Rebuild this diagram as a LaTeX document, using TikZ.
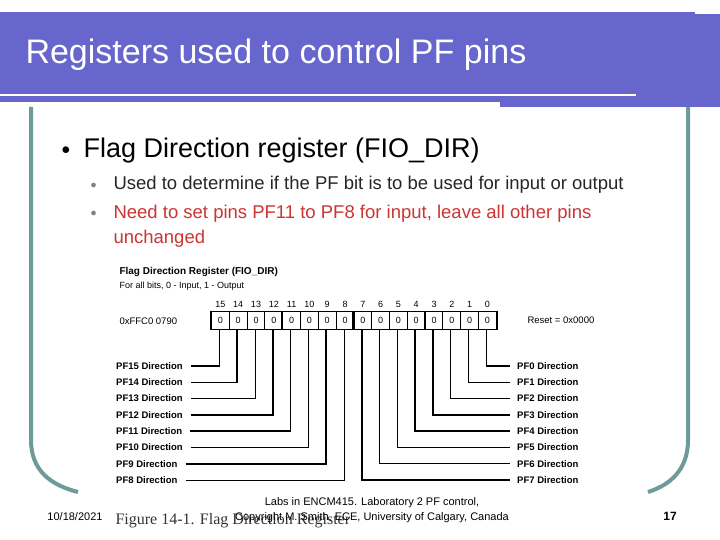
\documentclass[tikz,border=0pt]{standalone}
\usepackage{fontspec}
\setmainfont{Liberation Sans}
\newfontfamily\figfont{Liberation Serif}
\usepackage{tikz}
\usetikzlibrary{positioning}
\definecolor{barblue}{HTML}{6666CC}
\definecolor{frameteal}{HTML}{6E9A9A}
\definecolor{bulred}{HTML}{CC3333}
\tikzset{
  bit/.style={draw, line width=1pt, minimum width=17.8pt, minimum height=18pt,
    inner sep=0pt, font=\fontsize{9}{9}\selectfont, anchor=west},
  lbl/.style={font=\bfseries\fontsize{9.5}{10}\selectfont, inner sep=0pt},
  thk/.style={line width=1.6pt},
  thn/.style={line width=0.7pt}
}
\begin{document}
\begin{tikzpicture}[x=1pt,y=-1pt]
\useasboundingbox (0,0) rectangle (720,540);
% title bar
    \fill[barblue] (0,12) rectangle (695,102);
    \fill[barblue] (695,14) rectangle (720,107);
    \fill[barblue] (500,96) rectangle (695,107);
    \draw[white, line width=2.5pt] (0,95) -- (636,95);
    \node[anchor=west, white, font=\fontsize{34}{34}\selectfont] (title) at (22,55) {Registers used to control PF pins};
% frame
    \draw[frameteal, line width=4pt] (31,107) -- (31,440) .. controls (31,470) and (50,485) .. (78,492);
    \draw[frameteal, line width=4pt] (688,107) -- (688,440) .. controls (688,470) and (670,485) .. (648,492);
% bullets
    \node[anchor=west, font=\fontsize{16}{16}\selectfont] (b1) at (58,151) {$\bullet$};
    \node[anchor=west, font=\fontsize{27}{27}\selectfont] (t1) at (80,151) {Flag Direction register (FIO\_DIR)};
    \node[anchor=west, gray, font=\fontsize{12}{12}\selectfont] (b2) at (87,186) {$\bullet$};
    \node[anchor=west, gray, font=\fontsize{12}{12}\selectfont] (b3) at (87,214) {$\bullet$};
    \node[anchor=west, font=\fontsize{18.5}{18.5}\selectfont, text=black!85] (t2) at (110,185) {Used to determine if the PF bit is to be used for input or output};
    \node[anchor=north west, align=left, bulred, font=\fontsize{18.5}{25}\selectfont] (t3) at (110,202) {Need to set pins PF11 to PF8 for input, leave all other pins\\unchanged};
% register figure
    \node[anchor=west, font=\bfseries\fontsize{10}{10}\selectfont] (rname) at (116,272) {Flag Direction Register (FIO\_DIR)};
    \node[anchor=west, font=\fontsize{9}{9}\selectfont] (rnote) at (116,286) {For all bits, 0 - Input, 1 - Output};
    \node[anchor=west, font=\fontsize{9.5}{9.5}\selectfont] (addr) at (116,321) {0xFFC0 0790};
    \node[anchor=west, font=\fontsize{9.5}{9.5}\selectfont] (reset) at (524,320) {Reset = 0x0000};
    \foreach \i [evaluate=\i as \xx using {211+(15-\i)*17.8}] in {15,...,0} {
      \node[bit] (c\i) at (\xx,320) {0};
      \node[font=\fontsize{9}{9}\selectfont] (n\i) at (c\i.center |- 0,304) {\i};
    }
    \foreach \i in {15,11,7,3} \draw[line width=2.2pt] (c\i.north west) -- (c\i.south west);
    \draw[line width=2.2pt] (c0.north east) -- (c0.south east);
% left names
    \foreach \k/\w in {0/thk,1/thk,2/thn,3/thk,4/thk,5/thk,6/thk,7/thn} {
      \pgfmathtruncatemacro{\b}{15-\k}
      \node[lbl, anchor=west] (l\b) at (116,{366+\k*16.3}) {PF\b\ Direction};
      \draw[\w] ([xshift=8pt]l\b.east) -| ([xshift=-1pt]c\b.south);
    }
% right names
    \foreach \k/\w in {0/thk,1/thn,2/thn,3/thk,4/thk,5/thk,6/thn,7/thk} {
      \node[lbl, anchor=west] (r\k) at (517,{366+\k*16.3}) {PF\k\ Direction};
      \draw[\w] ([xshift=-7pt]r\k.west) -| ([xshift=-1pt]c\k.south);
    }
% footer
    \node[font=\figfont\fontsize{16}{16}\selectfont, text=black!80, anchor=west] (fig) at (112,521) {Figure 14-1. Flag Direction Register};
    \node[align=center, font=\fontsize{11}{15}\selectfont] (foot) at (372,510) {Labs in ENCM415. Laboratory 2 PF control,\\Copyright M. Smith, ECE, University of Calgary, Canada};
    \node[font=\fontsize{11}{11}\selectfont] (date) at (75,517) {10/18/2021};
    \node[font=\bfseries\fontsize{12}{12}\selectfont] (page) at (670,516) {17};
\end{tikzpicture}
\end{document}
